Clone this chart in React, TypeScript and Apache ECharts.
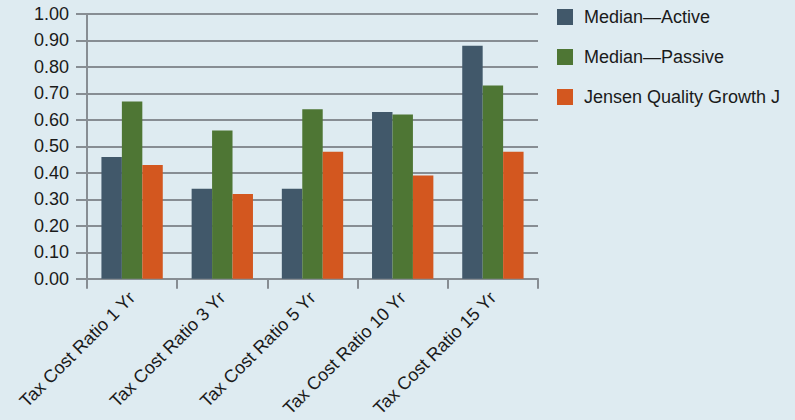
import React, { useEffect, useRef } from "react";
import * as echarts from "echarts";

const categories = [
  "Tax Cost Ratio 1 Yr",
  "Tax Cost Ratio 3 Yr",
  "Tax Cost Ratio 5 Yr",
  "Tax Cost Ratio 10 Yr",
  "Tax Cost Ratio 15 Yr",
];
const medianActive = [0.46, 0.34, 0.34, 0.63, 0.88];
const medianPassive = [0.67, 0.56, 0.64, 0.62, 0.73];
const jensen = [0.43, 0.32, 0.48, 0.39, 0.48];
const seriesNames = ["Median\u2014Active", "Median\u2014Passive", "Jensen Quality Growth J"];
const colors = ["#41586a", "#4e7634", "#d3571f"];

export default function App() {
  const ref = useRef<HTMLDivElement>(null);
  useEffect(() => {
    if (!ref.current) return;
    document.body.style.margin = "0";
    const chart = echarts.init(ref.current, null, { renderer: "svg" });
    const font = "'Liberation Sans', Arial, Helvetica, sans-serif";
    const dataSets = [medianActive, medianPassive, jensen];
    chart.setOption({
      animation: false,
      backgroundColor: "#deebf1",
      textStyle: { fontFamily: font },
      legend: {
        orient: "vertical",
        left: 557,
        top: 8,
        itemWidth: 16,
        itemHeight: 16,
        itemGap: 22,
        padding: 0,
        icon: "rect",
        textStyle: { fontSize: 18, color: "#1a1a1a", fontFamily: font, padding: [0, 0, 0, 6] },
        data: seriesNames,
      },
      grid: { left: 87, top: 14, right: 257, bottom: 139, containLabel: false },
      xAxis: {
        type: "category",
        data: categories,
        axisLine: { lineStyle: { color: "#878d93", width: 2 } },
        axisTick: { show: true, length: 10, lineStyle: { color: "#878d93", width: 2 } },
        axisLabel: { rotate: 45, fontSize: 18, color: "#1a1a1a", fontFamily: font, margin: 16, interval: 0 },
      },
      yAxis: {
        type: "value",
        min: 0,
        max: 1,
        interval: 0.1,
        axisLine: { show: true, lineStyle: { color: "#878d93", width: 2 } },
        axisTick: { show: true, length: 11, lineStyle: { color: "#878d93", width: 2 } },
        axisLabel: {
          fontSize: 18,
          color: "#1a1a1a",
          fontFamily: font,
          margin: 18,
          formatter: (v: number) => v.toFixed(2),
        },
        splitLine: { lineStyle: { color: "#878d93", width: 2 } },
      },
      series: dataSets.map((d, i) => ({
        name: seriesNames[i],
        type: "bar",
        data: d,
        barGap: "0%",
        barCategoryGap: "32%",
        itemStyle: { color: colors[i] },
      })),
    });
    return () => chart.dispose();
  }, []);
  return <div ref={ref} style={{ width: 795, height: 420 }} />;
}
